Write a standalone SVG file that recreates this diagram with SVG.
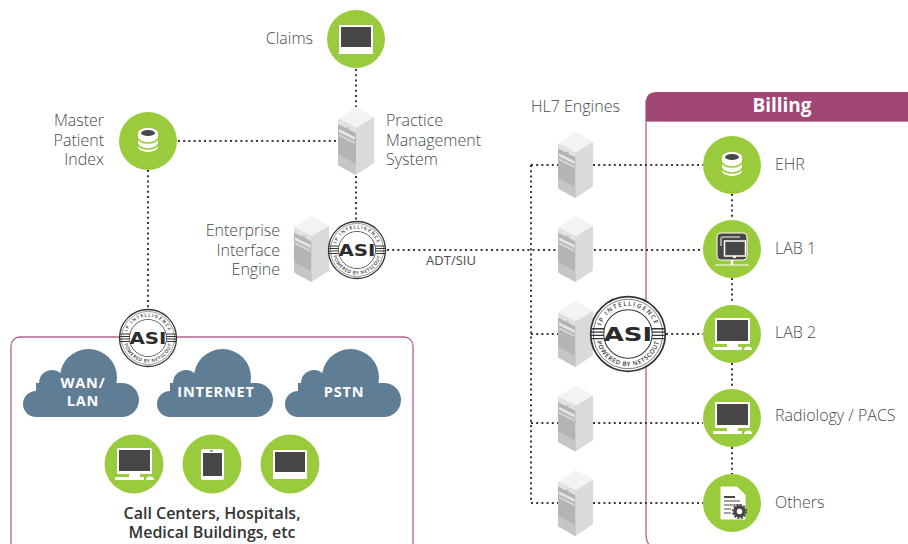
<svg xmlns="http://www.w3.org/2000/svg" width="908" height="544" viewBox="0 0 908 544">
<style>
text{font-family:"Open Sans","Liberation Sans",sans-serif}
.lbl{font-size:16px;font-weight:300;fill:#4a4a4a}
.end{text-anchor:end}
.cl{font-size:14.500px;font-weight:700;fill:#fff;text-anchor:middle;letter-spacing:.8px}
.cap{font-size:16px;font-weight:600;fill:#333;text-anchor:middle}
.dot{fill:none;stroke:#3a3a3a;stroke-width:2;stroke-dasharray:2 3.2}
.g{fill:#9acb3c}
.w{fill:#fff}
.k{fill:#464646}
.cloud{fill:#607d96}
.ring{font-size:4.700px;font-weight:600;fill:#333;letter-spacing:1.100px;text-anchor:middle}
.asi{font-family:"DejaVu Sans",sans-serif;font-size:15px;font-weight:700;fill:#2b2b2b;text-anchor:middle}
</style>
<defs>
<symbol id="srv" viewBox="0 0 36 68" overflow="visible">
<polygon points="18,0 36,10 18,21 0,12" fill="#f3f3f3"/>
<polygon points="18,21 36,10 36,56 18,68" fill="#d9dadb"/>
<polygon points="0,12 18,21 18,68 0,58" fill="#b3b4b5"/>
<polygon points="0,12 18,21 18,26 0,17" fill="#e2e2e2"/>
<polygon points="1,22 17,30 17,33 1,25" fill="#e6e6e6"/>
<polygon points="1,27 17,35 17,37 1,29" fill="#d8d8d8"/>
<polygon points="0,47 18,57 18,68 0,58" fill="#c4c5c6"/>
<circle cx="10" cy="21" r="1" fill="#9acb3c"/>
</symbol>
<g id="cld">
<circle cx="65.500" cy="28.500" r="28.500"/><circle cx="29" cy="34" r="13"/><circle cx="13" cy="55" r="13"/><circle cx="99" cy="51" r="17"/><rect x="13" y="34" width="86" height="34"/>
</g>
<g id="badge">
<circle r="28.500" fill="#fff" stroke="#333" stroke-width="1.300"/>
<circle r="26.500" fill="none" stroke="#333" stroke-width=".5"/>
<circle r="18.500" fill="none" stroke="#333" stroke-width=".8"/>
<path d="M-28-4h10M-28.500-1.500h10M-28.500 1h10M-28.500 3.500h10M18-4h10M18.500-1.500h10M18.500 1h10M18.500 3.500h10" stroke="#333" stroke-width="1" fill="none"/>
<circle r="17.800" fill="#fff"/>
<path id="ringTop" d="M-21.500 0A21.500 21.500 0 0 1 21.500 0" fill="none"/>
<path id="ringBot" d="M-24.500 0A24.500 24.500 0 0 0 24.500 0" fill="none"/>
<text class="ring"><textPath href="#ringTop" startOffset="50%">IP INTELLIGENCE</textPath></text>
<text class="ring" style="letter-spacing:.5px"><textPath href="#ringBot" startOffset="50%">POWERED BY NETSCOUT</textPath></text>
<text class="asi" y="5.500" textLength="37" lengthAdjust="spacingAndGlyphs">ASI</text>
</g>
<g id="mon">
<rect x="-17" y="-17" width="35" height="26" rx="1" class="w"/><rect x="-15" y="-15" width="31" height="21" class="k"/>
<rect x="-5" y="9" width="11" height="3" class="w"/><rect x="-19" y="12" width="29" height="3" rx="1" class="w"/><path d="M12 15q0-3.500 4-3.500t4 3.500z" class="w"/>
</g>
<g id="db">
<path d="M-10-8a10 5 0 0 1 20 0v14a10 5 0 0 1-20 0z" class="w"/>
<ellipse cy="-8" rx="7" ry="3" class="k"/>
<path d="M-10-3a10 5 0 0 0 20 0M-10 3a10 5 0 0 0 20 0" stroke="#9acb3c" stroke-width="1.500" fill="none"/>
</g>
<g id="lap">
<rect x="-17" y="-14" width="34" height="25" rx="1" class="w"/><rect x="-15" y="-12" width="30" height="20" class="k"/><rect x="-17" y="11" width="34" height="4" class="w"/>
</g>
</defs>

<g id="panels">
<rect id="panel-left" x="11" y="337" width="402" height="230" rx="9" fill="#fff" stroke="#b2608f" stroke-width="1.300"/>
<path id="panel-billing-body" d="M646 100V532q0 10 3 12M646 121H908" fill="none" stroke="#b2608f" stroke-width="1.300"/>
<path id="panel-billing-head" d="M646 121V102q0-10 10-10H908V121z" fill="#a04776"/>
<text x="782" y="112" text-anchor="middle" style="font-size:19px;font-weight:700;fill:#fff">Billing</text>
</g>

<g id="connectors">
<path class="dot" d="M356 69V107M178 141H338M148 170V310M356 176V222M387 250H557M594 250H703M531 165V503M531 165H558M593 165H703M531 334H558M666 334H703M531 423H558M593 423H703M531 503H558M593 503H703M732 194V220M732 278V304M732 363V389M732 447V474"/>
</g>
<text x="451" y="265" text-anchor="middle" style="font-size:13px;font-weight:400;fill:#4a4a4a">ADT/SIU</text>

<g id="claims"><circle cx="356" cy="39" r="29" class="g"/><use href="#lap" x="356" y="39"/><text x="313" y="44" class="lbl end">Claims</text></g>
<g id="mpi"><circle cx="148" cy="141" r="29" class="g"/><use href="#db" x="148" y="141"/><text x="104" y="126" class="lbl end">Master</text><text x="104" y="146" class="lbl end">Patient</text><text x="104" y="165" class="lbl end">Index</text></g>
<g id="pms"><use href="#srv" x="338" y="107" width="36" height="68"/><text x="386" y="126" class="lbl">Practice</text><text x="386" y="146" class="lbl">Management</text><text x="386" y="165" class="lbl">System</text></g>
<g id="eie"><use href="#srv" x="294" y="215" width="35" height="68"/><text x="280" y="236" class="lbl end">Enterprise</text><text x="280" y="256" class="lbl end">Interface</text><text x="280" y="275" class="lbl end">Engine</text></g>
<g id="asi-1"><use href="#badge" transform="translate(357 250)"/></g>

<g id="hl7"><text x="531" y="112" class="lbl">HL7 Engines</text>
<use href="#srv" x="558" y="132" width="35" height="66"/><use href="#srv" x="558" y="216" width="35" height="66"/><use href="#srv" x="558" y="301" width="35" height="66"/><use href="#srv" x="558" y="385" width="35" height="67"/><use href="#srv" x="558" y="470" width="35" height="66"/></g>

<g id="asi-3"><use href="#badge" transform="translate(628 334) scale(1.310)"/></g>

<g id="ehr"><circle cx="732" cy="165" r="29" class="g"/><use href="#db" x="732" y="165"/><text x="775" y="170" class="lbl">EHR</text></g>
<g id="lab1"><circle cx="732" cy="249" r="29" class="g"/>
<rect x="717" y="233" width="30" height="27" rx="4" class="k" stroke="#fff" stroke-width="1"/>
<path d="M721 246v-8a1 1 0 0 1 1-1h18" fill="none" stroke="#fff" stroke-width="1"/>
<rect x="724.500" y="241" width="21" height="15" class="k" stroke="#fff" stroke-width="1.500"/>
<rect x="733" y="256" width="3" height="2" class="w"/>
<path d="M715 265H749" stroke="#fff" stroke-width="1"/><path d="M732 260v5" stroke="#fff" stroke-width="2.500"/>
<text x="775" y="254" class="lbl">LAB 1</text></g>
<g id="lab2"><circle cx="732" cy="334" r="29" class="g"/><use href="#mon" x="732" y="335"/><text x="775" y="338" class="lbl">LAB 2</text></g>
<g id="radiology"><circle cx="732" cy="418" r="29" class="g"/><use href="#mon" x="732" y="419"/><text x="775" y="421" class="lbl">Radiology / PACS</text></g>
<g id="others"><circle cx="732" cy="503" r="29" class="g"/>
<path d="M721 487H737L745 495V519H721z" class="w" stroke="#fff" stroke-linejoin="round" stroke-width="1"/>
<path d="M724 497h11" stroke="#464646" stroke-width="2"/><path d="M724 501h16M724 505h16M724 509h7M724 513h7" stroke="#464646" stroke-width="1.200"/>
<circle cx="739.500" cy="511.500" r="4.500" fill="#fff" stroke="#464646" stroke-width="3.500"/><circle cx="739.500" cy="511.500" r="6.800" fill="none" stroke="#464646" stroke-width="1.600" stroke-dasharray="2 1.600"/>
<text x="775" y="508" class="lbl">Others</text></g>

<g id="wan"><use href="#cld" x="23" y="349" class="cloud"/><text x="83" y="388" class="cl">WAN/</text><text x="83" y="406" class="cl">LAN</text></g>
<g id="internet"><use href="#cld" x="157" y="349" class="cloud"/><text x="216" y="397" class="cl">INTERNET</text></g>
<g id="pstn"><use href="#cld" x="285" y="349" class="cloud"/><text x="344" y="397" class="cl">PSTN</text></g>
<g id="asi-2"><use href="#badge" transform="translate(148 338)"/></g>

<g id="desktop"><circle cx="134" cy="464" r="29.500" class="g"/><use href="#mon" x="134" y="465"/></g>
<g id="tablet"><circle cx="212" cy="464" r="29.500" class="g"/><rect x="201" y="449" width="23" height="31" rx="2" class="w"/><rect x="203" y="453" width="19" height="23" class="k"/><rect x="210" y="450.500" width="3" height="1" class="k"/></g>
<g id="laptop"><circle cx="290" cy="464" r="29.500" class="g"/><use href="#lap" x="290" y="464"/></g>
<g id="caption"><text x="212" y="519" class="cap">Call Centers, Hospitals,</text><text x="212" y="538" class="cap">Medical Buildings, etc</text></g>
</svg>
